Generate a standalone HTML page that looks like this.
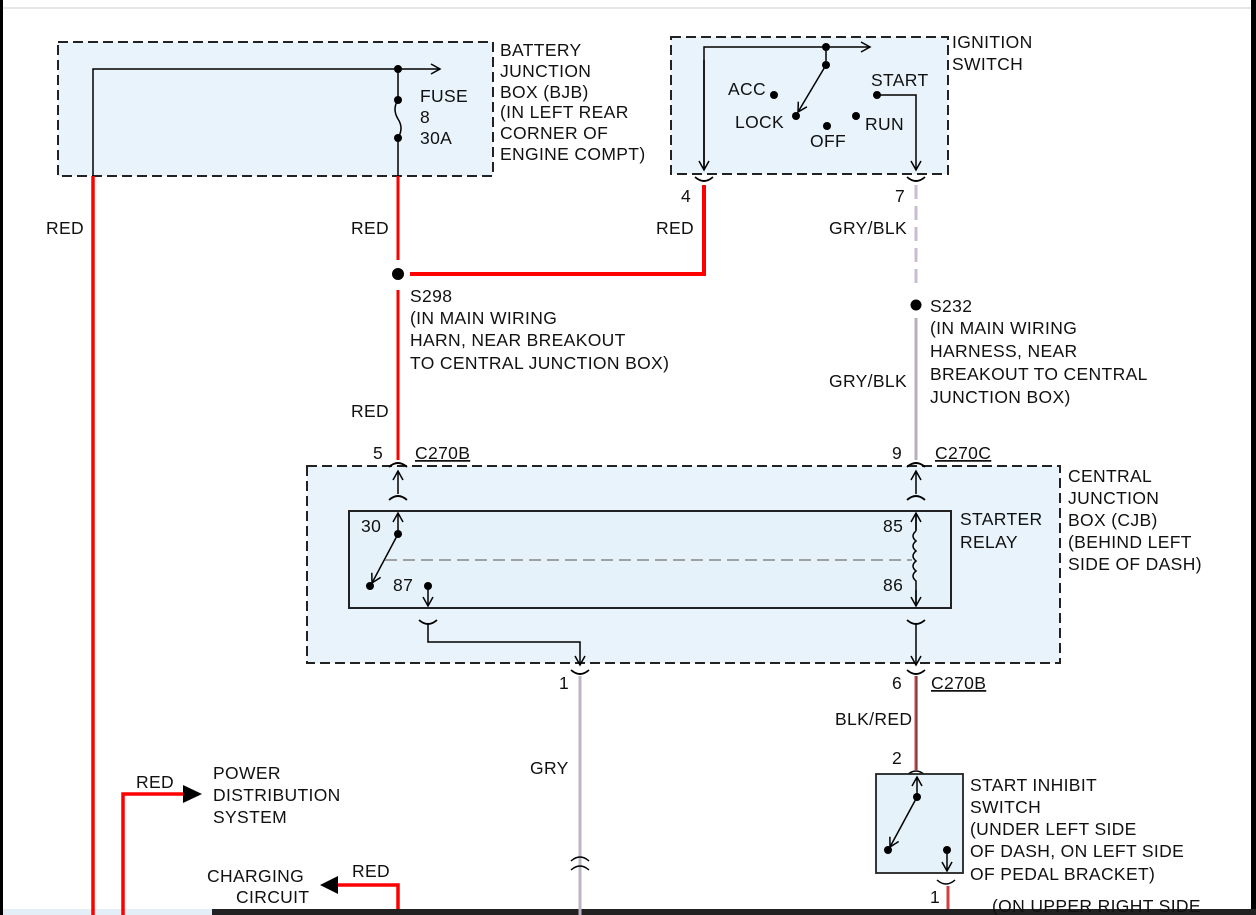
<!DOCTYPE html>
<html><head><meta charset="utf-8"><style>
html,body{margin:0;padding:0;background:#fff;width:1256px;height:915px;overflow:hidden}
svg text{font-family:"Liberation Sans",Arial,sans-serif;font-size:17.5px;letter-spacing:0.35px;fill:#111}
</style></head><body>
<svg width="1256" height="915" viewBox="0 0 1256 915" xmlns="http://www.w3.org/2000/svg">
<defs>
<marker id="a" markerWidth="12" markerHeight="12" refX="10" refY="6" orient="auto" markerUnits="userSpaceOnUse"><path d="M1,1 L10,6 L1,11" fill="none" stroke="#000" stroke-width="1.5"/></marker>
</defs>
<rect x="0" y="0" width="1256" height="915" fill="#fff"/>
<line x1="0" y1="8" x2="1256" y2="8" stroke="#ccc" stroke-width="1"/>
<rect x="0" y="0" width="3" height="915" fill="#000"/>
<rect x="1251" y="0" width="5" height="915" fill="#000"/>
<rect x="212" y="909" width="1044" height="6" fill="#222"/>
<rect x="3" y="909" width="209" height="6" fill="#e4eef6"/>

<!-- BJB -->
<rect x="58" y="42" width="435" height="134" fill="#e8f3fb" stroke="#222" stroke-width="2" stroke-dasharray="10,5"/>
<path d="M93,176 V69 H440" fill="none" stroke="#000" stroke-width="1.5" marker-end="url(#a)"/>
<path d="M398,69 V100 M398,100 q-6,9 0,19 q6,9 0,19 M398,138 V176" fill="none" stroke="#000" stroke-width="1.5"/>
<circle cx="398" cy="69" r="4"/><circle cx="398" cy="100" r="4"/><circle cx="398" cy="138" r="4"/>
<text x="420" y="102">FUSE</text><text x="420" y="123">8</text><text x="420" y="144">30A</text>
<text x="500" y="56">BATTERY</text><text x="500" y="77">JUNCTION</text><text x="500" y="98">BOX (BJB)</text><text x="500" y="118">(IN LEFT REAR</text><text x="500" y="139">CORNER OF</text><text x="500" y="160">ENGINE COMPT)</text>

<!-- Ignition -->
<rect x="671" y="37" width="277" height="137" fill="#e8f3fb" stroke="#222" stroke-width="2" stroke-dasharray="10,5"/>
<path d="M704,170 V47 H870" fill="none" stroke="#000" stroke-width="1.5" marker-end="url(#a)"/>
<path d="M704,60 V170" fill="none" stroke="#000" stroke-width="1.5" marker-end="url(#a)"/>
<line x1="826" y1="47" x2="826" y2="65" stroke="#000" stroke-width="1.5"/>
<line x1="826" y1="65" x2="798" y2="112" stroke="#000" stroke-width="1.5" marker-end="url(#a)"/>
<path d="M877,95 H916 V170" fill="none" stroke="#000" stroke-width="1.5" marker-end="url(#a)"/>
<circle cx="826" cy="47" r="4"/><circle cx="826" cy="65" r="4"/><circle cx="774" cy="95" r="4"/><circle cx="796" cy="116" r="4"/><circle cx="827" cy="126" r="4"/><circle cx="856" cy="116" r="4"/><circle cx="877" cy="95" r="4"/>
<text x="728" y="95">ACC</text><text x="735" y="128">LOCK</text><text x="810" y="147">OFF</text><text x="865" y="130">RUN</text><text x="871" y="86">START</text>
<text x="952" y="48">IGNITION</text><text x="952" y="70">SWITCH</text>

<path d="M695,177 q9,8 18,0" fill="none" stroke="#000" stroke-width="1.8"/>
<path d="M907,177 q9,8 18,0" fill="none" stroke="#000" stroke-width="1.8"/>
<text x="681" y="202">4</text><text x="895" y="202">7</text>

<!-- wires -->
<line x1="93" y1="176" x2="93" y2="915" stroke="#f00" stroke-width="3.5"/>
<line x1="398" y1="176" x2="398" y2="260" stroke="#f00" stroke-width="3"/>
<path d="M410,274 H704 V185" fill="none" stroke="#f00" stroke-width="4"/>
<circle cx="398" cy="274" r="6"/>
<line x1="398" y1="290" x2="398" y2="460" stroke="#f00" stroke-width="3"/>
<line x1="916" y1="185" x2="916" y2="290" stroke="#c8bcd0" stroke-width="3" stroke-dasharray="14,7"/>
<circle cx="916" cy="305" r="5.5"/>
<line x1="916" y1="318" x2="916" y2="460" stroke="#b8aebe" stroke-width="3"/>
<text x="46" y="234">RED</text><text x="351" y="234">RED</text><text x="656" y="234">RED</text><text x="829" y="234">GRY/BLK</text>
<text x="410" y="302">S298</text><text x="410" y="324">(IN MAIN WIRING</text><text x="410" y="346">HARN, NEAR BREAKOUT</text><text x="410" y="369">TO CENTRAL JUNCTION BOX)</text>
<text x="930" y="312">S232</text><text x="930" y="334">(IN MAIN WIRING</text><text x="930" y="357">HARNESS, NEAR</text><text x="930" y="380">BREAKOUT TO CENTRAL</text><text x="930" y="403">JUNCTION BOX)</text>
<text x="829" y="387">GRY/BLK</text><text x="351" y="417">RED</text>
<text x="373" y="459">5</text><text x="415" y="459" text-decoration="underline">C270B</text>
<text x="892" y="459">9</text><text x="935" y="459" text-decoration="underline">C270C</text>

<!-- CJB -->
<rect x="307" y="466" width="753" height="197" fill="#e8f3fb" stroke="#222" stroke-width="2" stroke-dasharray="10,5"/>
<rect x="349" y="511" width="602" height="97" fill="#e5f2fa" stroke="#222" stroke-width="2"/>
<g fill="none" stroke="#000" stroke-width="1.8">
<path d="M389,467 q9,-8 18,0 M389,500 q9,-8 18,0 M907,467 q9,-8 18,0 M907,500 q9,-8 18,0"/>
<path d="M419,620 q9,8 18,0 M907,620 q9,8 18,0 M571,670 q9,8 18,0 M907,670 q9,8 18,0"/>
</g>
<line x1="398" y1="494" x2="398" y2="471" stroke="#000" stroke-width="1.5" marker-end="url(#a)"/>
<line x1="916" y1="494" x2="916" y2="471" stroke="#000" stroke-width="1.5" marker-end="url(#a)"/>
<line x1="398" y1="534" x2="398" y2="513" stroke="#000" stroke-width="1.5" marker-end="url(#a)"/>
<line x1="398" y1="534" x2="372" y2="583" stroke="#000" stroke-width="1.5" marker-end="url(#a)"/>
<circle cx="398" cy="534" r="4"/><circle cx="370" cy="586" r="4"/><circle cx="428" cy="586" r="4"/>
<line x1="428" y1="586" x2="428" y2="606" stroke="#000" stroke-width="1.5" marker-end="url(#a)"/>
<line x1="385" y1="560" x2="912" y2="560" stroke="#888" stroke-width="1.5" stroke-dasharray="12,6"/>
<path d="M916,531 V513 M916,531 q-6,5 0,10 q-6,5 0,10 q-6,5 0,10 q-6,5 0,10 q-6,5 0,10 V606" fill="none" stroke="#000" stroke-width="1.5"/>
<line x1="916" y1="530" x2="916" y2="513" stroke="#000" stroke-width="1.5" marker-end="url(#a)"/>
<line x1="916" y1="590" x2="916" y2="606" stroke="#000" stroke-width="1.5" marker-end="url(#a)"/>
<path d="M428,624 V642 H580 V665" fill="none" stroke="#000" stroke-width="1.5" marker-end="url(#a)"/>
<line x1="916" y1="624" x2="916" y2="665" stroke="#000" stroke-width="1.5" marker-end="url(#a)"/>
<text x="361" y="532">30</text><text x="393" y="591">87</text><text x="883" y="532">85</text><text x="883" y="591">86</text>
<text x="960" y="525">STARTER</text><text x="960" y="548">RELAY</text>
<text x="1068" y="482">CENTRAL</text><text x="1068" y="504">JUNCTION</text><text x="1068" y="526">BOX (CJB)</text><text x="1068" y="548">(BEHIND LEFT</text><text x="1068" y="570">SIDE OF DASH)</text>

<!-- lower -->
<line x1="580" y1="676" x2="580" y2="915" stroke="#bcb4c4" stroke-width="3"/>
<path d="M571,861 q9,-8 18,0 M571,870 q9,-8 18,0" fill="none" stroke="#000" stroke-width="1.5"/>
<text x="559" y="689">1</text><text x="530" y="774">GRY</text>
<line x1="916" y1="676" x2="916" y2="770" stroke="#d04040" stroke-width="3"/>
<line x1="917" y1="676" x2="917" y2="770" stroke="#333" stroke-width="1"/>
<text x="892" y="689">6</text><text x="931" y="689" text-decoration="underline">C270B</text>
<text x="835" y="725">BLK/RED</text><text x="892" y="764">2</text>
<path d="M907,775 q9,-8 18,0" fill="none" stroke="#000" stroke-width="1.5"/>
<rect x="876" y="774" width="87" height="99" fill="#e5f2fa" stroke="#222" stroke-width="1.8"/>
<line x1="917" y1="797" x2="917" y2="777" stroke="#000" stroke-width="1.5" marker-end="url(#a)"/>
<line x1="917" y1="797" x2="890" y2="847" stroke="#000" stroke-width="1.5" marker-end="url(#a)"/>
<circle cx="917" cy="797" r="4"/><circle cx="888" cy="850" r="4"/><circle cx="947" cy="850" r="4"/>
<line x1="947" y1="850" x2="947" y2="871" stroke="#000" stroke-width="1.5" marker-end="url(#a)"/>
<path d="M937,880 q9,8 18,0" fill="none" stroke="#000" stroke-width="1.5"/>
<line x1="948" y1="886" x2="948" y2="909" stroke="#d04040" stroke-width="3"/>
<text x="930" y="903">1</text>
<text x="970" y="791">START INHIBIT</text><text x="970" y="813">SWITCH</text><text x="970" y="835">(UNDER LEFT SIDE</text><text x="970" y="857">OF DASH, ON LEFT SIDE</text><text x="970" y="880">OF PEDAL BRACKET)</text>
<text x="992" y="912">(ON UPPER RIGHT SIDE</text>

<path d="M123,915 V794 H185" fill="none" stroke="#f00" stroke-width="3.5"/>
<path d="M183,785 L202,794 L183,803 Z" fill="#000"/>
<text x="136" y="788">RED</text>
<text x="213" y="779">POWER</text><text x="213" y="801">DISTRIBUTION</text><text x="213" y="823">SYSTEM</text>
<path d="M398,909 V885 H337" fill="none" stroke="#f00" stroke-width="3.5"/>
<path d="M338,876 L320,885 L338,894 Z" fill="#000"/>
<text x="352" y="877">RED</text>
<text x="207" y="882">CHARGING</text><text x="236" y="903">CIRCUIT</text>
</svg>
</body></html>
